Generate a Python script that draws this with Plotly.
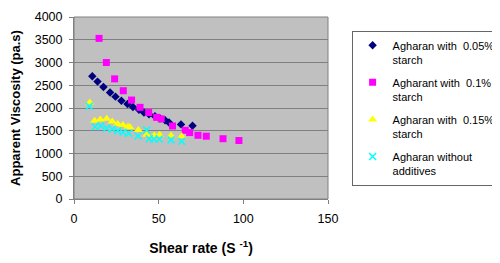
import plotly.graph_objects as go

# Agharan with 0.05% starch
x1 = [10.8, 13.9, 17.4, 21.3, 24.5, 28.0, 31.6, 34.8, 38.4, 41.3, 44.3, 47.8, 50.8, 53.8, 56.1, 63.2, 70.0]
y1 = [2700, 2580, 2460, 2340, 2250, 2160, 2090, 2020, 1960, 1900, 1860, 1820, 1770, 1730, 1680, 1640, 1610]
# Agharant with 0.1% starch
x2 = [14.8, 19.1, 24.0, 29.1, 34.0, 39.0, 44.1, 48.8, 51.5, 58.2, 65.7, 68.3, 73.2, 78.1, 88.0, 97.4]
y2 = [3530, 3000, 2640, 2380, 2175, 2015, 1900, 1795, 1760, 1605, 1510, 1460, 1400, 1380, 1325, 1285]
# Agharan with 0.15% starch
x3 = [9.3, 12.2, 15.5, 19.3, 22.6, 25.8, 28.9, 31.9, 33.1, 38.0, 42.9, 47.4, 50.6, 57.3, 63.6]
y3 = [2120, 1720, 1745, 1765, 1705, 1650, 1625, 1590, 1575, 1515, 1410, 1395, 1410, 1395, 1380]
# Agharan without additives
x4 = [9.0, 12.4, 15.8, 19.3, 22.6, 25.8, 28.9, 32.3, 37.8, 42.9, 44.5, 47.2, 50.4, 57.3, 63.6]
y4 = [2040, 1590, 1610, 1555, 1540, 1500, 1465, 1445, 1385, 1515, 1325, 1320, 1320, 1300, 1270]

names = ["Agharan with&nbsp; 0.05%<br>starch", "Agharant with&nbsp; 0.1%<br>starch",
         "Agharan with&nbsp; 0.15%<br>starch", "Agharan without<br>additives"]

fig = go.Figure()
fig.add_trace(go.Scatter(x=x1, y=y1, mode="markers", name=names[0], legendgroup="a",
                         marker=dict(symbol="diamond", size=6.5, color="#000080")))
fig.add_trace(go.Scatter(x=x2, y=y2, mode="markers", name=names[1], legendgroup="b",
                         marker=dict(symbol="square", size=7, color="#FF00FF")))
fig.add_trace(go.Scatter(x=x3, y=y3, mode="markers", name=names[2], legendgroup="c",
                         marker=dict(symbol="triangle-up", size=8, color="#FFFF00")))
fig.add_trace(go.Scatter(x=x4, y=y4, mode="markers", name=names[3], legendgroup="d",
                         marker=dict(symbol="x-thin-open", size=7, color="#00FFFF",
                                     line=dict(width=1.5, color="#00FFFF"))))

font = "Liberation Sans, Arial, sans-serif"
fig.update_layout(
    width=492, height=255,
    margin=dict(l=66, r=172, t=9, b=64, autoexpand=False),
    paper_bgcolor="white", plot_bgcolor="#C0C0C0",
    font=dict(family=font, size=12.5, color="black"),
    showlegend=True,
    legend=dict(x=1.0945, y=0.923, xanchor="left", yanchor="top",
                bordercolor="#000000", borderwidth=0.6, bgcolor="white",
                font=dict(size=11, family=font), valign="top",
                tracegroupgap=5.5, itemwidth=30),
    xaxis=dict(range=[0, 150], tickvals=[0, 50, 100, 150], showgrid=False, automargin=False,
               zeroline=False, showline=True, linecolor="#808080", linewidth=1,
               ticks="outside", ticklen=4, tickcolor="#808080", ticklabelstandoff=4,
               title=dict(text="<b>Shear rate (S <sup>-1</sup>)</b>", font=dict(size=14), standoff=18),
               mirror=False),
    yaxis=dict(range=[0, 4000], dtick=500, showgrid=True, gridcolor="#808080", gridwidth=1,
               zeroline=False, showline=True, linecolor="#808080", linewidth=1, automargin=False,
               ticks="outside", ticklen=4, tickcolor="#808080", ticklabelstandoff=4,
               title=dict(text="<b>Apparent Viscosity (pa.s)</b>", font=dict(size=13), standoff=14)),
)
fig.add_shape(type="rect", xref="paper", yref="paper", x0=0, y0=0, x1=1, y1=1,
              line=dict(color="#808080", width=1))
fig.write_html("out.html")
